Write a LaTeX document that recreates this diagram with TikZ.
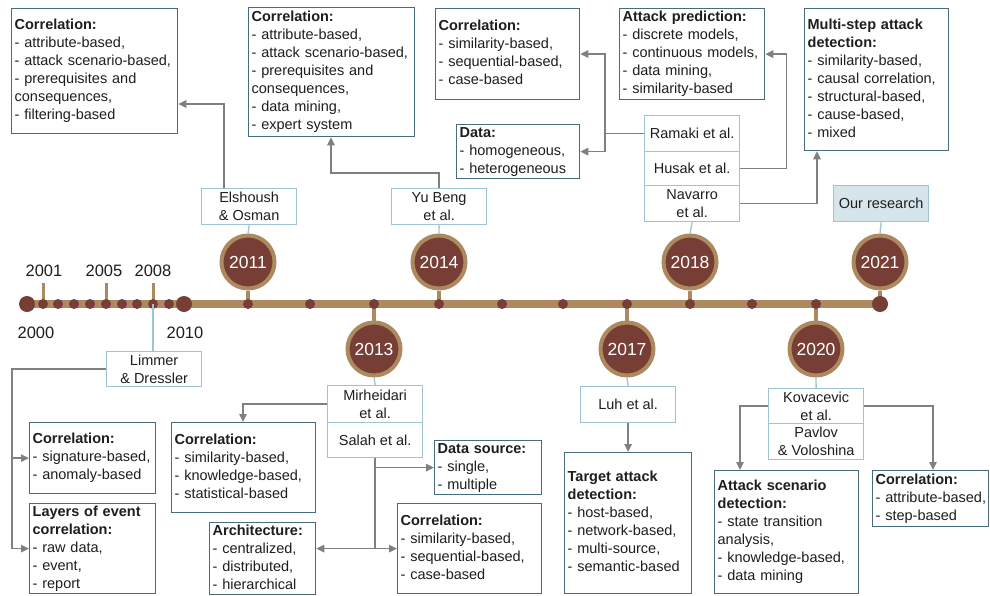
\documentclass[tikz,border=0pt]{standalone}
\usepackage{fontspec}
\setmainfont{Liberation Sans}
\usetikzlibrary{arrows.meta}

\definecolor{tan}{RGB}{172,137,94}
\definecolor{bark}{RGB}{119,62,54}
\definecolor{frame}{RGB}{72,108,124}
\definecolor{authframe}{RGB}{158,196,212}
\definecolor{conn}{RGB}{128,128,128}
\definecolor{ourfill}{RGB}{214,228,235}
\definecolor{ink}{RGB}{30,30,30}

% one line per row, never re-wrapped
\newcommand{\boxrows}[1]{\begin{tabular}{@{}l@{}}#1\end{tabular}}

\begin{document}
\begin{tikzpicture}[x=1pt,y=-1pt,
  txt/.style={font=\fontsize{14.5}{18}\selectfont, text=ink},
  info/.style 2 args={txt, draw=frame, line width=1.3pt, fill=white,
    anchor=north west, inner xsep=3pt, inner ysep=0pt, align=left,
    text width=#1, minimum height=#2},
  author/.style={txt, draw=authframe, line width=1.3pt, fill=white,
    anchor=north west, inner sep=0pt, minimum width=95pt,
    minimum height=36pt, align=center},
  yearc/.style={circle, fill=bark, draw=tan, line width=4pt,
    minimum size=53pt, inner sep=0pt, text=white,
    font=\fontsize{17.5}{18}\selectfont},
  yearlab/.style={font=\fontsize{16.5}{18}\selectfont, text=ink, inner sep=0pt},
  stem/.style={draw=tan, line width=4pt},
  tick/.style={draw=tan, line width=3pt},
  link/.style={draw=authframe, line width=1.3pt},
  line/.style={draw=conn, line width=1.4pt},
  arr/.style={draw=conn, line width=1.4pt, -{Triangle[length=8pt,width=7.5pt]}}
]
\useasboundingbox (0,0) rectangle (990,595);

% ---------- timeline ----------
\draw[tan, line width=8pt] (27,304) -- (880,304);
\foreach \x in {43,106,153} \draw[tick] (\x,283) -- (\x,304);

\coordinate (t2008) at (153,304);

\node[yearlab] (l2001) at (44,271) {2001};
\node[yearlab] (l2005) at (104,271) {2005};
\node[yearlab] (l2008) at (153,271) {2008};
\node[yearlab] (l2000) at (36,333) {2000};
\node[yearlab] (l2010) at (185,333) {2010};

% year badges
\node[yearc] (y11) at (248,262) {2011};
\node[yearc] (y14) at (439,262) {2014};
\node[yearc] (y18) at (690,262) {2018};
\node[yearc] (y21) at (880,262) {2021};
\node[yearc] (y13) at (374,349) {2013};
\node[yearc] (y17) at (627,349) {2017};
\node[yearc] (y20) at (816,349) {2020};

\foreach \n in {y11,y14,y18,y21} \draw[stem] (\n.south) -- (\n.south |- 0,304);
\foreach \n in {y13,y17,y20} \draw[stem] (\n.north) -- (\n.north |- 0,304);

\foreach \x in {43,58,74,90,106,122,137,153,169,248,310,374,439,502,563,627,690,752,816}
  \fill[bark] (\x,304) circle (5pt);
\foreach \x in {27,184,880} \fill[bark] (\x,304) circle (8pt);

% ---------- authors ----------
\node[author] (els) at (201,188) {Elshoush\\\& Osman};
\node[author] (yub) at (391,188) {Yu Beng\\et al.};
\node[author] (ram) at (644,115) {Ramaki et al.};
\node[author, minimum height=34pt] (hus) at (644,151) {Husak et al.};
\node[author] (nav) at (644,185) {Navarro\\et al.};
\node[author, fill=ourfill] (our) at (833,185) {Our research};
\node[author, minimum height=35pt] (lim) at (106,351) {Limmer\\\& Dressler};
\node[author, minimum height=37pt] (mir) at (327,385) {Mirheidari\\et al.};
\node[author, minimum height=35pt] (sal) at (327,422) {Salah et al.};
\node[author] (luh) at (580,386) {Luh et al.};
\node[author, minimum height=35pt] (kov) at (768,388) {Kovacevic\\et al.};
\node[author] (pav) at (768,423) {Pavlov\\\& Voloshina};

\draw[link] (els.south) -- (y11.north);
\draw[link] (yub.south) -- (y14.north);
\draw[link] (nav.south) -- (y18.north);
\draw[link] (our.south) -- (y21.north);
\draw[link] (y13.south) -- (mir.north);
\draw[link] (y17.south) -- (luh.north);
\draw[link] (y20.south) -- (kov.north);
\draw[link] (t2008) -- (lim.north -| t2008);

% ---------- topic boxes ----------
\node[info={160pt}{125pt}] (c1) at (11,8) {\boxrows{\textbf{Correlation:}\\- attribute-based,\\- attack scenario-based,\\- prerequisites and\\consequences,\\- filtering-based}};
\node[info={160pt}{129pt}] (c2) at (248,7) {\boxrows{\textbf{Correlation:}\\- attribute-based,\\- attack scenario-based,\\- prerequisites and\\consequences,\\- data mining,\\- expert system}};
\node[info={138pt}{91pt}] (c3) at (435,8) {\boxrows{\textbf{Correlation:}\\- similarity-based,\\- sequential-based,\\- case-based}};
\node[info={117pt}{53pt}] (dat) at (456,124) {\boxrows{\textbf{Data:}\\- homogeneous,\\- heterogeneous}};
\node[info={139pt}{91pt}] (pred) at (619,8) {\boxrows{\textbf{Attack prediction:}\\- discrete models,\\- continuous models,\\- data mining,\\- similarity-based}};
\node[info={138pt}{142pt}] (multi) at (804,8) {\boxrows{\textbf{Multi-step attack}\\\textbf{detection:}\\- similarity-based,\\- causal correlation,\\- structural-based,\\- cause-based,\\- mixed}};
\node[info={120pt}{71pt}] (c4) at (29,422) {\boxrows{\textbf{Correlation:}\\- signature-based,\\- anomaly-based}};
\node[info={120pt}{90pt}] (layers) at (29,503) {\boxrows{\textbf{Layers of event}\\\textbf{correlation:}\\- raw data,\\- event,\\- report}};
\node[info={138pt}{90pt}] (c5) at (171,422) {\boxrows{\textbf{Correlation:}\\- similarity-based,\\- knowledge-based,\\- statistical-based}};
\node[info={100pt}{70pt}] (arch) at (209,522) {\boxrows{\textbf{Architecture:}\\- centralized,\\- distributed,\\- hierarchical}};
\node[info={101pt}{53pt}] (dsrc) at (434,440) {\boxrows{\textbf{Data source:}\\- single,\\- multiple}};
\node[info={138pt}{90pt}] (c6) at (397,503) {\boxrows{\textbf{Correlation:}\\- similarity-based,\\- sequential-based,\\- case-based}};
\node[info={121pt}{141pt}] (target) at (564,452) {\boxrows{\textbf{Target attack}\\\textbf{detection:}\\- host-based,\\- network-based,\\- multi-source,\\- semantic-based}};
\node[info={138pt}{123pt}] (scen) at (714,470) {\boxrows{\textbf{Attack scenario}\\\textbf{detection:}\\- state transition\\analysis,\\- knowledge-based,\\- data mining}};
\node[info={110pt}{56pt}] (c7) at (872,470) {\boxrows{\textbf{Correlation:}\\- attribute-based,\\- step-based}};

% ---------- connectors ----------
\coordinate (e1) at (224,104);
\draw[arr] (els.north -| e1) -- (e1) -- (c1.east |- e1);

\coordinate (yb1) at (331,173);
\draw[arr] (yub.north) |- (yb1) -- (c2.south -| yb1);

\coordinate (r1) at (605,54);
\draw[line] (ram.west) -- (ram.west -| r1);
\draw[arr] (ram.west -| r1) -- (r1) -- (c3.east |- r1);
\draw[arr] (ram.west -| r1) -- (dat.east -| r1) -- (dat.east);

\draw[arr] (hus.east) -| ([xshift=21pt]pred.east) -- (pred.east);
\draw[arr] (nav.east) -| ([xshift=13pt]multi.south west);

\coordinate (lx) at (12,368);
\draw[line] (lim.west) -- (lim.west -| lx) -- (layers.west -| lx);
\draw[arr] (c4.west -| lx) -- (c4.west);
\draw[arr] (layers.west -| lx) -- (layers.west);

\draw[arr] (mir.west) -| ([xshift=72pt]c5.north west);

\coordinate (s1) at (sal.south |- c6.west);
\draw[line] (sal.south) -- (s1);
\draw[arr] (s1) -- (c6.west);
\draw[arr] (s1) -- (arch.east |- s1);
\draw[arr] (sal.south |- dsrc.west) -- (dsrc.west);

\draw[arr] (luh.south) -- (target.north);

\draw[arr] (kov.west) -| ([xshift=26pt]scen.north west);
\draw[arr] (kov.east) -| ([xshift=61pt]c7.north west);
\end{tikzpicture}
\end{document}
